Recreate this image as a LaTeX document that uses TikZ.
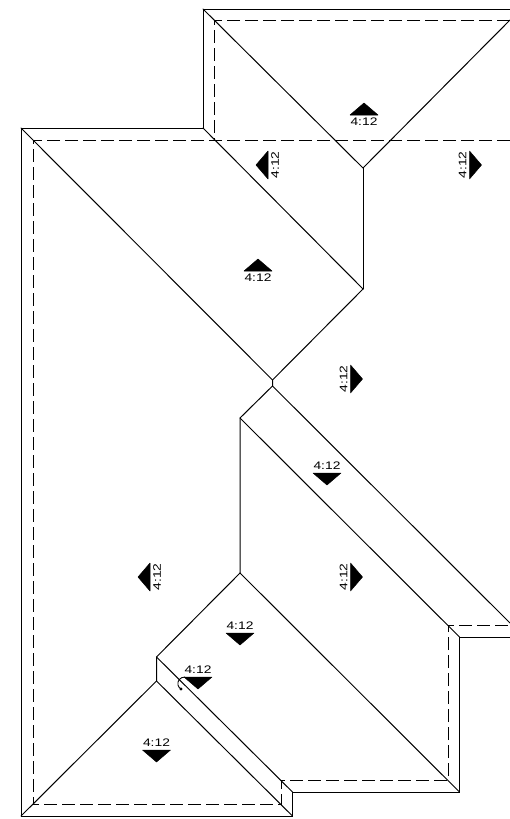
\documentclass[tikz,border=0pt]{standalone}
\usepackage{fontspec}
\setmainfont{Liberation Sans}
\tikzset{
  roofline/.style={line width=1pt,black,line cap=round,line join=miter},
  eaveline/.style={line width=1pt,black,dash pattern=on 13pt off 5pt},
  pitchtext/.style={inner sep=0pt,font=\fontsize{11.5}{11.5}\selectfont,xscale=1.2,yscale=0.95},
  slopemark/.style={fill=black,draw=black,line width=0.5pt,line join=round}
}
% #1 name, #2 x, #3 y of the middle of the triangle's base
\newcommand{\pitchup}[3]{%
  \path[slopemark] (#2-14,#3) -- (#2,#3-12) -- (#2+14,#3) -- cycle;
  \node[pitchtext] (#1) at (#2,#3+6.5) {4:12};}
\newcommand{\pitchdown}[3]{%
  \path[slopemark] (#2-14,#3) -- (#2,#3+12) -- (#2+14,#3) -- cycle;
  \node[pitchtext] (#1) at (#2,#3-7) {4:12};}
\newcommand{\pitchleft}[3]{%
  \path[slopemark] (#2,#3-14) -- (#2-12,#3) -- (#2,#3+14) -- cycle;
  \node[rotate=90,pitchtext] (#1) at (#2+7,#3) {4:12};}
\newcommand{\pitchright}[3]{%
  \path[slopemark] (#2,#3-14) -- (#2+12,#3) -- (#2,#3+14) -- cycle;
  \node[rotate=90,pitchtext] (#1) at (#2-7,#3) {4:12};}
\begin{document}
\begin{tikzpicture}[x=1pt,y=-1pt]
\useasboundingbox[fill=white] (0,0) rectangle (510,819);
% outer edge
\draw[roofline] (510,9) -- (203,9) -- (203,128) -- (21,128) -- (21,816) -- (292.5,816) -- (292.5,792) -- (459.5,792) -- (459.5,637) -- (510,637);
% eave dashes
\draw[eaveline] (510,20) -- (214,20) -- (214,140);
\draw[eaveline] (510,140) -- (33,140) -- (33,804) -- (281,804) -- (281,780) -- (448,780) -- (448,625) -- (510,625);
% hips and ridges
\draw[roofline] (203,9) -- (363,168) -- (510,20);
\draw[roofline] (363,168) -- (363,289);
\draw[roofline] (203,128) -- (363,289) -- (272.5,380) -- (272.5,386);
\draw[roofline] (21,128) -- (272.5,380);
\draw[roofline] (272.5,386) -- (240,418) -- (240,573);
\draw[roofline] (272.5,386) -- (510,623);
\draw[roofline] (240,418) -- (459.5,637);
\draw[roofline] (240,573) -- (459.5,792);
\draw[roofline] (240,573) -- (156.5,657) -- (156.5,681) -- (21,816);
\draw[roofline] (156.5,657) -- (292.5,792);
\draw[roofline] (156.5,681) -- (292.5,816);
% slope marks
\pitchup{ma}{364}{115}
\pitchleft{mb}{268}{165}
\pitchright{mc}{469.5}{165}
\pitchup{md}{258}{271}
\pitchright{me}{350.5}{379}
\pitchdown{mf}{327}{473}
\pitchright{mg}{350.5}{577}
\pitchleft{mh}{150}{577}
\pitchdown{mi}{240}{633}
\pitchdown{mj}{198}{677}
\pitchdown{mk}{156.5}{750}
% curl
\draw[line width=0.9pt] (185,677) .. controls (180,677) and (177,681) .. (178,685) .. controls (178.5,687) and (179.5,688) .. (181,689);
\fill (181,689) circle (1.7);
\end{tikzpicture}
\end{document}
